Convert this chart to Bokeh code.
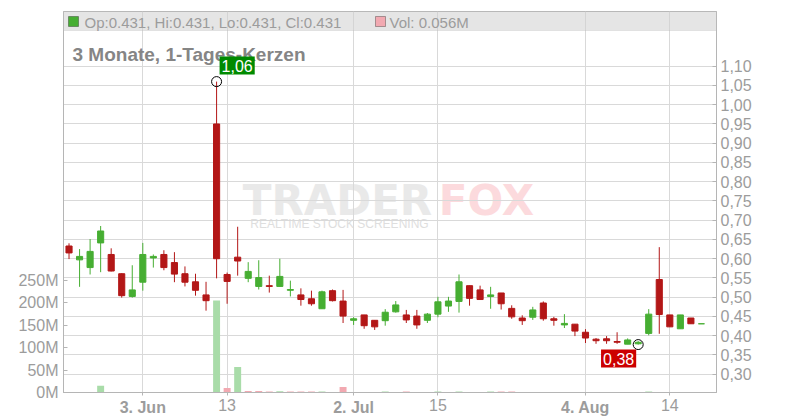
import pandas as pd
from bokeh.plotting import figure
from bokeh.layouts import column
from bokeh.models import (ColumnDataSource, Range1d, LinearAxis, FixedTicker,
                          Label, BoxAnnotation)
from bokeh.core.properties import value
from bokeh.embed import file_html
from bokeh.resources import INLINE

# ---------------- data ----------------
holidays = ["2025-05-26", "2025-06-19", "2025-07-04"]
dates = [d for d in pd.bdate_range("2025-05-22", "2025-08-19").strftime("%Y-%m-%d")
         if d not in holidays]

opens = [0.633, 0.597, 0.577, 0.641, 0.611, 0.561, 0.502, 0.539, 0.602, 0.611,
         0.590, 0.561, 0.540, 0.506, 0.950, 0.559, 0.604, 0.549, 0.528, 0.530,
         0.528, 0.518, 0.506, 0.496, 0.470, 0.517, 0.490, 0.440, 0.454, 0.440,
         0.439, 0.462, 0.454, 0.451, 0.440, 0.456, 0.477, 0.489, 0.530, 0.519,
         0.502, 0.511, 0.471, 0.446, 0.448, 0.485, 0.444, 0.428, 0.430, 0.409,
         0.391, 0.392, 0.385, 0.378, 0.379, 0.406, 0.546, 0.454, 0.418, 0.446,
         0.431]
highs = [0.640, 0.625, 0.651, 0.685, 0.627, 0.562, 0.583, 0.641, 0.611, 0.622,
         0.617, 0.580, 0.561, 0.540, 1.060, 0.564, 0.683, 0.591, 0.596, 0.556,
         0.600, 0.543, 0.523, 0.517, 0.517, 0.520, 0.519, 0.448, 0.454, 0.440,
         0.469, 0.490, 0.467, 0.467, 0.459, 0.501, 0.501, 0.559, 0.530, 0.530,
         0.527, 0.511, 0.479, 0.453, 0.475, 0.489, 0.449, 0.456, 0.430, 0.417,
         0.394, 0.399, 0.409, 0.393, 0.386, 0.469, 0.630, 0.454, 0.454, 0.446,
         0.431]
lows = [0.599, 0.527, 0.559, 0.565, 0.567, 0.499, 0.499, 0.517, 0.577, 0.570,
        0.539, 0.528, 0.504, 0.465, 0.549, 0.483, 0.556, 0.539, 0.520, 0.512,
        0.527, 0.502, 0.478, 0.478, 0.470, 0.489, 0.433, 0.428, 0.418, 0.415,
        0.426, 0.460, 0.433, 0.418, 0.433, 0.448, 0.462, 0.460, 0.478, 0.494,
        0.470, 0.468, 0.444, 0.428, 0.441, 0.439, 0.426, 0.420, 0.399, 0.381,
        0.379, 0.379, 0.379, 0.378, 0.377, 0.401, 0.405, 0.423, 0.418, 0.431,
        0.431]
closes = [0.615, 0.606, 0.619, 0.672, 0.568, 0.504, 0.519, 0.611, 0.606, 0.577,
          0.560, 0.539, 0.518, 0.491, 0.600, 0.541, 0.594, 0.567, 0.551, 0.528,
          0.554, 0.520, 0.494, 0.483, 0.514, 0.491, 0.451, 0.444, 0.426, 0.423,
          0.461, 0.480, 0.441, 0.428, 0.456, 0.488, 0.490, 0.540, 0.497, 0.494,
          0.506, 0.483, 0.449, 0.439, 0.467, 0.444, 0.440, 0.432, 0.412, 0.394,
          0.387, 0.387, 0.383, 0.389, 0.383, 0.456, 0.455, 0.423, 0.454, 0.431,
          0.431]
volumes_m = [0.8, 0.8, 0.8, 15, 0.8, 0.8, 0.8, 0.8, 0.8, 0.8,
             0.8, 0.8, 0.8, 0.8, 205, 10, 57, 3.5, 3.5, 2.5,
             3, 2.5, 2.5, 2.5, 2.5, 0.8, 12.5, 0.8, 0.8, 0.8,
             2.5, 0.8, 2.5, 0.8, 0.8, 2.5, 0.8, 2.5, 0.8, 0.8,
             2.5, 2.5, 2.5, 0.8, 0.8, 0.8, 0.8, 0.8, 0.8, 0.8,
             0.8, 0.8, 0.8, 0.8, 0.8, 2.5, 0.8, 0.8, 0.8, 0.8,
             0.056]

x_tick_dates = ["2025-06-03", "2025-06-13", "2025-07-02", "2025-07-15", "2025-08-04", "2025-08-14"]
x_tick_labels = ["3. Jun", "13", "2. Jul", "15", "4. Aug", "14"]
x_tick_bold = [True, False, True, False, True, False]

price_ticks = [0.30, 0.35, 0.40, 0.45, 0.50, 0.55, 0.60, 0.65, 0.70, 0.75,
               0.80, 0.85, 0.90, 0.95, 1.00, 1.05, 1.10]
price_tick_labels = ["0,30", "0,35", "0,40", "0,45", "0,50", "0,55", "0,60", "0,65", "0,70",
                     "0,75", "0,80", "0,85", "0,90", "0,95", "1,00", "1,05", "1,10"]
vol_ticks = [0, 50, 100, 150, 200, 250]
vol_tick_labels = ["0M", "50M", "100M", "150M", "200M", "250M"]

title_text = "3 Monate, 1-Tages-Kerzen"

# ---------------- styles ----------------
FONT = "Liberation Sans"
UP = "#46ae32"
DOWN = "#b31717"
VOL_UP = "#a9dca9"
VOL_DOWN = "#f2a9b1"
AXIS = "#b5b5b5"
LABEL = "#9c9c9c"
GRID = "#d9d9d9"

n = len(dates)
xs = list(range(n))
colors = [UP if c >= o else DOWN for o, c in zip(opens, closes)]
vcolors = [VOL_UP if (i == 0 or closes[i] >= closes[i - 1]) else VOL_DOWN for i in range(n)]
src = ColumnDataSource(dict(
    x=xs, open=opens, high=highs, low=lows, close=closes,
    top=[max(o, c) for o, c in zip(opens, closes)],
    bottom=[min(o, c) for o, c in zip(opens, closes)],
    color=colors, vol=volumes_m, vcolor=vcolors))

BOTTOM_PAD = 9
p = figure(frame_width=653, frame_height=381, output_backend="svg", toolbar_location=None,
           x_range=Range1d(-0.524, 61.43), y_range=Range1d(0.2525, 1.2421),
           y_axis_location="right",
           min_border_left=63, min_border_right=60, min_border_top=11,
           min_border_bottom=BOTTOM_PAD,
           background_fill_color="white", border_fill_color="white",
           outline_line_color=AXIS)
p.extra_y_ranges = {"vol": Range1d(0, 848.6)}

# grids
x_tick_pos = [dates.index(d) for d in x_tick_dates]
p.xgrid.ticker = FixedTicker(ticks=x_tick_pos)
p.ygrid.ticker = FixedTicker(ticks=price_ticks)
p.xgrid.grid_line_color = GRID
p.ygrid.grid_line_color = GRID

# volume bars
p.vbar(x="x", width=0.66, top="vol", bottom=0, fill_color="vcolor", line_color=None,
       y_range_name="vol", source=src)
# candles
p.segment(x0="x", y0="low", x1="x", y1="high", line_color="color", line_width=1, source=src)
p.vbar(x="x", width=0.58, top="top", bottom="bottom", fill_color="color",
       line_color="color", line_width=1, source=src)

# x axis: line and tick marks only (labels are drawn in the strip below)
xa = p.xaxis[0]
xa.ticker = FixedTicker(ticks=x_tick_pos)
xa.axis_line_color = AXIS
xa.major_tick_line_color = AXIS
xa.major_tick_in = 0
xa.major_tick_out = 3
xa.minor_tick_line_color = None
xa.major_label_standoff = 0
xa.major_label_text_font_size = "0px"
xa.major_label_text_color = None

# price axis (right)
ya = p.yaxis[0]
ya.ticker = FixedTicker(ticks=price_ticks)
ya.major_label_overrides = dict(zip(price_ticks, price_tick_labels))
ya.axis_line_color = AXIS
ya.major_tick_line_color = AXIS
ya.major_tick_in = 4
ya.major_tick_out = 0
ya.minor_tick_line_color = None
ya.major_label_standoff = 4
ya.major_label_text_font = FONT
ya.major_label_text_font_size = "16px"
ya.major_label_text_color = LABEL

# volume axis (left)
va = LinearAxis(y_range_name="vol", ticker=FixedTicker(ticks=vol_ticks))
va.major_label_overrides = dict(zip(vol_ticks, vol_tick_labels))
va.axis_line_color = AXIS
va.major_tick_line_color = AXIS
va.major_tick_in = 4
va.major_tick_out = 0
va.minor_tick_line_color = None
va.major_label_standoff = 5
va.major_label_text_font = FONT
va.major_label_text_font_size = "16px"
va.major_label_text_color = LABEL
p.add_layout(va, "left")

# watermark
p.add_layout(Label(x=274, y=192, x_units="screen", y_units="screen", text="TRADER",
                   text_font="DejaVu Sans", text_font_style="bold", text_font_size="42px",
                   text_color="#e9e9e9", text_align="center", text_baseline="alphabetic",
                   level="image"))
p.add_layout(Label(x=423, y=192, x_units="screen", y_units="screen", text="FOX",
                   text_font="DejaVu Sans", text_font_style="bold", text_font_size="42px",
                   text_color="#fcdadd", text_align="center", text_baseline="alphabetic",
                   level="image"))
p.add_layout(Label(x=276, y=169, x_units="screen", y_units="screen",
                   text="REALTIME STOCK SCREENING",
                   text_font=FONT, text_font_size="12px",
                   text_color="#dedede", text_align="center", text_baseline="alphabetic",
                   level="image"))

# header bar
p.add_layout(BoxAnnotation(bottom=362, bottom_units="screen", fill_color="#cfcfcf",
                           fill_alpha=0.55, line_color="#b8b8b8", line_width=1))
p.add_layout(BoxAnnotation(left=5, right=15, bottom=366, top=376,
                           left_units="screen", right_units="screen",
                           bottom_units="screen", top_units="screen",
                           fill_color=UP, fill_alpha=1, line_color="black", line_width=1))
p.add_layout(BoxAnnotation(left=312, right=322, bottom=366, top=376,
                           left_units="screen", right_units="screen",
                           bottom_units="screen", top_units="screen",
                           fill_color=VOL_DOWN, fill_alpha=1, line_color="black", line_width=1))
ohlc_text = "Op:%.3f, Hi:%.3f, Lo:%.3f, Cl:%.3f" % (opens[-1], highs[-1], lows[-1], closes[-1])
p.add_layout(Label(x=21, y=370.5, x_units="screen", y_units="screen", text=ohlc_text,
                   text_font=FONT, text_font_size="15px", text_color=LABEL,
                   text_baseline="middle"))
p.add_layout(Label(x=326, y=370.5, x_units="screen", y_units="screen",
                   text="Vol: %.3fM" % volumes_m[-1],
                   text_font=FONT, text_font_size="15px", text_color=LABEL,
                   text_baseline="middle"))

# title
p.add_layout(Label(x=9, y=338, x_units="screen", y_units="screen", text=title_text,
                   text_font=FONT, text_font_style="bold", text_font_size="19px",
                   text_color="#858585", text_baseline="alphabetic"))

# high / low markers
ihi = highs.index(max(highs))
ilo = lows.index(min(lows))
p.scatter(x=[ihi, ilo], y=[highs[ihi], lows[ilo]], size=10, fill_alpha=0,
          line_color="black", line_width=1)
p.add_layout(Label(x=ihi, y=highs[ihi], x_offset=3, y_offset=7,
                   text=("%.2f" % highs[ihi]).replace(".", ","),
                   text_font=FONT, text_font_size="16px", text_color="white",
                   background_fill_color="#008a00", padding=(2, 3),
                   text_align="left", text_baseline="bottom"))
p.add_layout(Label(x=ilo, y=lows[ilo], x_offset=-2, y_offset=-5,
                   text=("%.2f" % lows[ilo]).replace(".", ","),
                   text_font=FONT, text_font_size="16px", text_color="white",
                   background_fill_color="#cc0000", padding=(2, 3),
                   text_align="right", text_baseline="top"))

# ---------------- date label strip (y measured in pixels from its top) ----------------
# transparent strip, pulled up so that its top meets the bottom of the plot frame
STRIP_H = 26
p2 = figure(frame_width=653, frame_height=STRIP_H, output_backend="svg", toolbar_location=None,
            x_range=p.x_range, y_range=Range1d(STRIP_H, 0),
            x_axis_location=None, y_axis_location=None,
            min_border_left=63, min_border_right=60, min_border_top=0, min_border_bottom=0,
            background_fill_alpha=0, border_fill_alpha=0,
            outline_line_color=None, margin=(-BOTTOM_PAD, 0, 0, 0))
p2.grid.visible = False
label_top = 6
for want_bold in (True, False):
    sel = [k for k, b in enumerate(x_tick_bold) if b == want_bold]
    p2.text(x=[x_tick_pos[k] for k in sel], y=[label_top] * len(sel),
            text=[x_tick_labels[k] for k in sel],
            text_font=value(FONT), text_font_size=value("16px"),
            text_font_style=value("bold" if want_bold else "normal"),
            text_color=LABEL, text_align="center", text_baseline="top")

layout = column(p, p2, spacing=0)
open("out.html", "w").write(file_html(layout, INLINE))
